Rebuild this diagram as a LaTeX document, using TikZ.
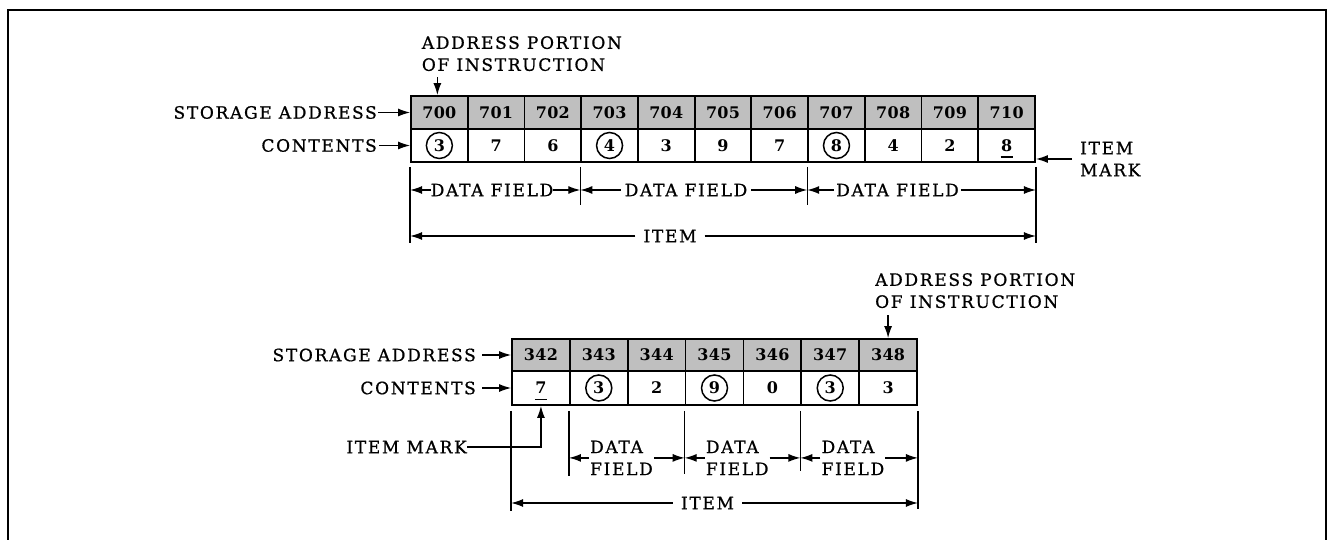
\documentclass[tikz,border=0pt]{standalone}
\usepackage{fontspec}
\setmainfont{DejaVu Serif}[LetterSpace=10,FakeBold=0.8]
\newfontfamily\digfont{DejaVu Serif}[LetterSpace=2]
\usetikzlibrary{arrows.meta,calc}
\begin{document}
\begin{tikzpicture}[x=1pt,y=-1pt,
  txt/.style={inner sep=0pt, font=\fontsize{17}{22}\selectfont},
  arr/.style={line width=1.3pt, -{Latex[length=12pt,width=8pt]}},
  dimline/.style={line width=1.3pt},
  acell/.style={draw, line width=1.8pt, fill=black!25, inner sep=0pt, font=\fontsize{16}{18}\selectfont\digfont\bfseries},
  ccell/.style={draw, line width=1.8pt, fill=white, inner sep=0pt, font=\fontsize{16}{18}\selectfont\digfont\bfseries},
  ring/.style={line width=1.5pt},
  uline/.style={line width=1.5pt},
]
\useasboundingbox (0,0) rectangle (1331,540);
\fill[white] (0,0) rectangle (1331,540);
\draw[line width=2.2pt] (8,540) -- (8,10) -- (1326,10) -- (1326,540);

% ---------- Table 1 ----------
\foreach \a [count=\i from 0] in {700,...,710} {
  \node[acell, minimum width=56.73pt, minimum height=33pt] (t1a\i) at ({411+28.365+\i*56.73}, 112.5) {\a};
}
\foreach \c [count=\i from 0] in {3,7,6,4,3,9,7,8,4,2,8} {
  \node[ccell, minimum width=56.73pt, minimum height=33pt] (t1c\i) at ({411+28.365+\i*56.73}, 145.5) {\c};
}
\foreach \n in {t1c0,t1c3,t1c7} \draw[ring] (\n.center) circle (13pt);
\draw[uline] ($(t1c10.center)+(-6,11.5)$) -- ++(12,0);

\node[txt, anchor=east] (sa1) at (377,112.5) {STORAGE ADDRESS};
\draw[arr] (sa1.east) ++(1,0) -- (t1a0.west);
\node[txt, anchor=east] (ct1) at (377,145.5) {CONTENTS};
\draw[arr] (ct1.east) ++(2,0) -- (t1c0.west);

\node[txt, align=left, anchor=north west] (ap1) at (421.7,36) {ADDRESS PORTION\\OF INSTRUCTION};
\draw[arr] (ap1.south -| t1a0.north) ++(-2,6) -- ([xshift=-2pt]t1a0.north);

\node[txt, align=left, anchor=west] (im1) at (1080,159) {ITEM\\MARK};
\draw[arr] (im1.west) ++(-8,0) -- (im1.west -| t1c10.east);

% ticks
\draw[dimline] (t1c0.south west) ++(0,4) -- ++(0,76);
\draw[dimline] (t1c3.south west) ++(0,4) -- ++(0,38);
\draw[dimline] (t1c7.south west) ++(0,4) -- ++(0,38);
\draw[dimline] (t1c10.south east) ++(0,4) -- ++(0,76);

\node[txt, inner xsep=0pt] (df1) at (492,190) {DATA FIELD};
\draw[arr] (df1.west) -- (df1.west -| t1c0.south west);
\draw[arr] (df1.east) -- (df1.east -| t1c3.south west);
\node[txt, inner xsep=4pt] (df2) at (686,190) {DATA FIELD};
\draw[arr] (df2.west) -- (df2.west -| t1c3.south west);
\draw[arr] (df2.east) -- (df2.east -| t1c7.south west);
\node[txt, inner xsep=2pt] (df3) at (897.5,190) {DATA FIELD};
\draw[arr] (df3.west) -- (df3.west -| t1c7.south west);
\draw[arr] (df3.east) -- (df3.east -| t1c10.south east);

\node[txt, inner xsep=8pt] (it1) at (670,236) {ITEM};
\draw[arr] (it1.west) -- (it1.west -| t1c0.south west);
\draw[arr] (it1.east) -- (it1.east -| t1c10.south east);

% ---------- Table 2 ----------
\foreach \a [count=\i from 0] in {342,...,348} {
  \node[acell, minimum width=57.86pt, minimum height=32pt] (t2a\i) at ({512+28.93+\i*57.86}, 355) {\a};
}
\foreach \c [count=\i from 0] in {7,3,2,9,0,3,3} {
  \node[ccell, minimum width=57.86pt, minimum height=34pt] (t2c\i) at ({512+28.93+\i*57.86}, 388) {\c};
}
\foreach \n in {t2c1,t2c3,t2c5} \draw[ring] (\n.center) circle (13pt);
\draw[uline] ($(t2c0.center)+(-6,11.5)$) -- ++(12,0);

\node[txt, anchor=east] (sa2) at (476,355) {STORAGE ADDRESS};
\draw[arr] (sa2.east) ++(6,0) -- (t2a0.west);
\node[txt, anchor=east] (ct2) at (476,388) {CONTENTS};
\draw[arr] (ct2.east) ++(6,0) -- (t2c0.west);

\node[txt, align=left, anchor=north west] (ap2) at (875,273) {ADDRESS PORTION\\OF INSTRUCTION};
\draw[arr] (ap2.south -| t2a6.north) ++(0,7) -- (t2a6.north);

\node[txt, anchor=east] (im2) at (467,447) {ITEM MARK};
\draw[arr] (im2.east) -| (t2c0.south);

% ticks
\draw[dimline] (t2c0.south west) ++(0,5) -- ++(0,100);
\draw[dimline] (t2c1.south west) ++(0,5) -- ++(0,65);
\draw[dimline] (t2c3.south west) ++(0,5) -- ++(0,63);
\draw[dimline] (t2c5.south west) ++(0,5) -- ++(0,60);
\draw[dimline] (t2c6.south east) ++(0,5) -- ++(0,98);

\node[txt, align=left, anchor=west, inner xsep=1pt] (dfb1) at ($(t2c1.south west)+(20,52)$) {DATA\\FIELD};
\draw[arr] (dfb1.west) -- (dfb1.west -| t2c1.south west);
\draw[arr] (dfb1.east) -- (dfb1.east -| t2c3.south west);
\node[txt, align=left, anchor=west, inner xsep=1pt] (dfb2) at ($(t2c3.south west)+(20,52)$) {DATA\\FIELD};
\draw[arr] (dfb2.west) -- (dfb2.west -| t2c3.south west);
\draw[arr] (dfb2.east) -- (dfb2.east -| t2c5.south west);
\node[txt, align=left, anchor=west, inner xsep=1pt] (dfb3) at ($(t2c5.south west)+(20,52)$) {DATA\\FIELD};
\draw[arr] (dfb3.west) -- (dfb3.west -| t2c5.south west);
\draw[arr] (dfb3.east) -- (dfb3.east -| t2c6.south east);

\node[txt, inner xsep=8pt] (it2) at (707.5,503) {ITEM};
\draw[arr] (it2.west) -- (it2.west -| t2c0.south west);
\draw[arr] (it2.east) -- (it2.east -| t2c6.south east);
\end{tikzpicture}
\end{document}
